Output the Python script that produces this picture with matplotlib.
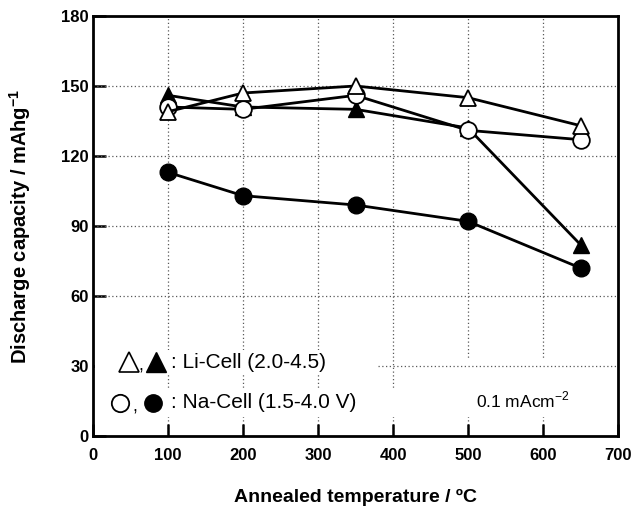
import matplotlib
matplotlib.use("Agg")
import matplotlib.pyplot as plt
from matplotlib.patches import Rectangle

plt.rcParams["font.family"] = ["Liberation Sans", "DejaVu Sans"]
plt.rcParams["mathtext.fontset"] = "custom"
plt.rcParams["mathtext.rm"] = "Liberation Sans"
plt.rcParams["mathtext.bf"] = "Liberation Sans:bold"

temps = [100, 200, 350, 500, 650]
li_open = [139, 147, 150, 145, 133]
li_filled = [146, 141, 140, 132, 82]
na_open = [141, 140, 146, 131, 127]
na_filled = [113, 103, 99, 92, 72]

x_ticks = [0, 100, 200, 300, 400, 500, 600, 700]
y_ticks = [0, 30, 60, 90, 120, 150, 180]

fig = plt.figure(figsize=(6.34, 5.11), dpi=100)
ax = fig.add_axes([93 / 634, 1 - 436 / 511, (618 - 93) / 634, (436 - 16) / 511])

# dotted grid, partly hidden behind the annotation boxes
for x in x_ticks[1:-1]:
    ax.axvline(x, color="0.35", lw=0.9, ls=(0, (1, 2)), zorder=1)
for y in y_ticks[1:-1]:
    ax.axhline(y, color="0.35", lw=0.9, ls=(0, (1, 2)), zorder=1.6)
ax.add_patch(Rectangle((0.67, 0.045), 0.31, 0.14, transform=ax.transAxes,
                       facecolor="white", edgecolor="none", zorder=1.5))
ax.add_patch(Rectangle((0.003, 0.15), 0.537, 0.055, transform=ax.transAxes,
                       facecolor="white", edgecolor="none", zorder=1.7))
ax.add_patch(Rectangle((0.003, 0.045), 0.58, 0.07, transform=ax.transAxes,
                       facecolor="white", edgecolor="none", zorder=1.7))

lw = 2.0
ms = 12
ax.plot(temps, na_filled, "-o", color="black", lw=lw, ms=ms, zorder=3)
ax.plot(temps, li_filled, "-^", color="black", lw=lw, ms=ms, zorder=3)
ax.plot(temps, na_open, "-o", color="black", lw=lw, ms=ms, mfc="white", mew=1.3, zorder=4)
ax.plot(temps, li_open, "-^", color="black", lw=lw, ms=ms, mfc="white", mew=1.3, zorder=4)

ax.set_xlim(0, 700)
ax.set_ylim(0, 180)
ax.set_xticks(x_ticks)
ax.set_yticks(y_ticks)
ax.tick_params(direction="in", length=9, width=1.8, labelsize=12)
ax.tick_params(axis="x", pad=9)
ax.tick_params(axis="y", pad=3)
for lab in ax.get_xticklabels() + ax.get_yticklabels():
    lab.set_fontweight("bold")
for s in ax.spines.values():
    s.set_linewidth(2)

ax.set_xlabel("Annealed temperature / ºC", fontsize=14, fontweight="bold")
ax.set_ylabel("Discharge capacity / mAhg$^{\\mathbf{-1}}$", fontsize=14.5, fontweight="bold")
ax.xaxis.set_label_coords(0.5, -0.125)
ax.yaxis.set_label_coords(-0.114, 0.5)

# legend drawn as text with markers
row1, row2 = 0.176, 0.079
ax.plot([0.068], [row1], "^", ms=14, mfc="white", mec="black", mew=1.2, transform=ax.transAxes, zorder=6)
ax.plot([0.12], [row1], "^", ms=14, color="black", transform=ax.transAxes, zorder=6)
ax.plot([0.051], [row2], "o", ms=12.5, mfc="white", mec="black", mew=1.3, transform=ax.transAxes, zorder=6)
ax.plot([0.114], [row2], "o", ms=12.5, color="black", transform=ax.transAxes, zorder=6)
ax.text(0.091, row1 - 0.01, ",", transform=ax.transAxes, fontsize=13, ha="center", va="center", zorder=7)
ax.text(0.079, row2 - 0.01, ",", transform=ax.transAxes, fontsize=13, ha="center", va="center", zorder=7)
ax.text(0.148, row1, ": Li-Cell (2.0-4.5)", transform=ax.transAxes,
        fontsize=15, va="center", zorder=6)
ax.text(0.148, row2, ": Na-Cell (1.5-4.0 V)", transform=ax.transAxes,
        fontsize=15, va="center", zorder=6)

ax.text(0.73, 0.085, "0.1 mAcm$^{-2}$", transform=ax.transAxes, fontsize=12.5, va="center", zorder=6)

fig.savefig("out.png", dpi=100)
